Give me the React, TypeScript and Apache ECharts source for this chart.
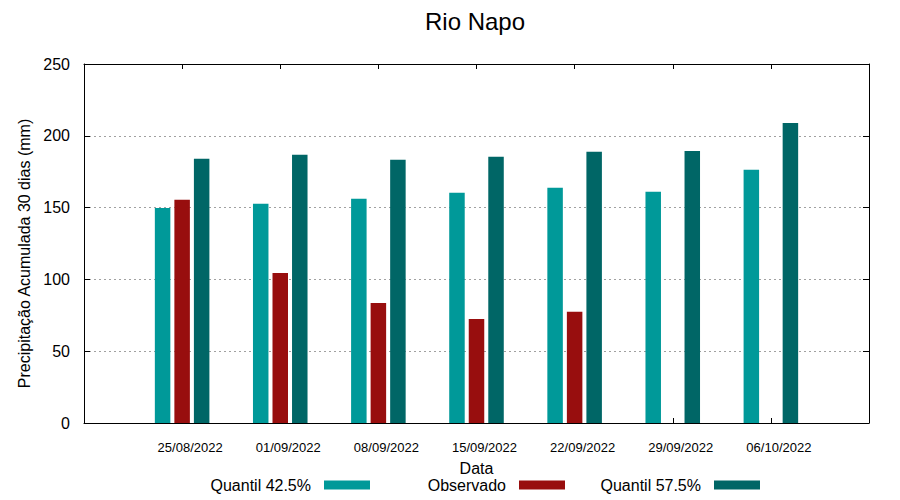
import React, { useEffect, useRef } from "react";
import * as echarts from "echarts";

const dates = ["25/08/2022", "01/09/2022", "08/09/2022", "15/09/2022", "22/09/2022", "29/09/2022", "06/10/2022"];
const quantil425 = [149.8, 152.6, 156.1, 160.3, 163.8, 161.0, 176.3];
const observado: (number | null)[] = [155.4, 104.5, 83.6, 72.5, 77.4, null, null];
const quantil575 = [184.0, 186.8, 183.3, 185.4, 188.9, 189.5, 209.0];
const yTicks = [0, 50, 100, 150, 200, 250];
const seriesNames = ["Quantil 42.5%", "Observado", "Quantil 57.5%"];
const colors = ["#009999", "#980e0e", "#006666"];

const FONT = "Liberation Sans, Arial, sans-serif";

function toPairs(vals: (number | null)[]) {
  const out: [number, number][] = [];
  vals.forEach((v, i) => {
    if (v !== null) out.push([i, v]);
  });
  return out;
}

export default function App() {
  const ref = useRef<HTMLDivElement>(null);
  useEffect(() => {
    if (!ref.current) return;
    const chart = echarts.init(ref.current, null, { renderer: "svg" });
    const allData = [quantil425, observado, quantil575];
    const legendRights = [530, 335, 140];
    const lineStyle = { color: "#000", width: 1 };
    chart.setOption({
      animation: false,
      backgroundColor: "#ffffff",
      textStyle: { fontFamily: FONT, color: "#000" },
      title: {
        text: "Rio Napo",
        left: 470,
        textAlign: "center",
        top: 4,
        textStyle: { fontFamily: FONT, fontSize: 24, fontWeight: "normal", color: "#000" },
      },
      legend: seriesNames.map((n, i) => ({
        data: [n],
        right: legendRights[i],
        top: 477,
        align: "right",
        padding: 0,
        itemWidth: 46,
        itemHeight: 9,
        icon: "rect",
        selectedMode: false,
        textStyle: { fontFamily: FONT, fontSize: 16, color: "#000", padding: [0, 8, 0, 0] },
      })),
      grid: { left: 84, right: 31, top: 64, bottom: 77, containLabel: false },
      xAxis: [
        {
          type: "value",
          position: "bottom",
          min: -1,
          max: 7,
          interval: 1,
          name: "Data",
          nameLocation: "middle",
          nameGap: 37,
          nameTextStyle: { fontFamily: FONT, fontSize: 16, color: "#000" },
          axisLine: { show: true, onZero: false, lineStyle },
          axisTick: { show: true, inside: true, length: 5, lineStyle: { color: "#000" } },
          axisLabel: {
            show: true,
            fontFamily: FONT,
            fontSize: 13,
            color: "#000",
            margin: 18,
            padding: [0, 0, 0, 16],
            showMinLabel: false,
            showMaxLabel: false,
            formatter: (v: number) => (v >= 0 && v < dates.length ? dates[v] : ""),
          },
          splitLine: { show: false },
        },
        {
          type: "value",
          position: "top",
          min: -1,
          max: 7,
          interval: 1,
          axisLine: { show: true, onZero: false, lineStyle },
          axisTick: { show: true, inside: true, length: 5, lineStyle: { color: "#000" } },
          axisLabel: { show: false },
          splitLine: { show: false },
        },
      ],
      yAxis: [
        {
          type: "value",
          position: "left",
          min: yTicks[0],
          max: yTicks[yTicks.length - 1],
          interval: 50,
          name: "Precipitação Acumulada 30 dias (mm)",
          nameLocation: "middle",
          nameGap: 51,
          nameTextStyle: { fontFamily: FONT, fontSize: 16, color: "#000", padding: [0, 20, 0, 0] },
          axisLine: { show: true, onZero: false, lineStyle },
          axisTick: { show: true, inside: true, length: 6, lineStyle: { color: "#000" } },
          axisLabel: { fontFamily: FONT, fontSize: 16, color: "#000", margin: 14 },
          splitLine: { show: true, lineStyle: { color: "#a0a0a0", type: [2, 3], width: 1 } },
        },
        {
          type: "value",
          position: "right",
          min: yTicks[0],
          max: yTicks[yTicks.length - 1],
          interval: 50,
          axisLine: { show: true, onZero: false, lineStyle },
          axisTick: { show: true, inside: true, length: 6, lineStyle: { color: "#000" } },
          axisLabel: { show: false },
          splitLine: { show: false },
        },
      ],
      series: seriesNames.map((n, i) => ({
        name: n,
        type: "bar",
        xAxisIndex: 0,
        yAxisIndex: 0,
        barWidth: 15.5,
        barGap: "26%",
        itemStyle: { color: colors[i] },
        data: toPairs(allData[i]),
      })),
    });
    return () => chart.dispose();
  }, []);
  return (
    <div
      ref={ref}
      style={{ position: "fixed", left: 0, top: 0, width: 900, height: 500, background: "#fff" }}
    />
  );
}
